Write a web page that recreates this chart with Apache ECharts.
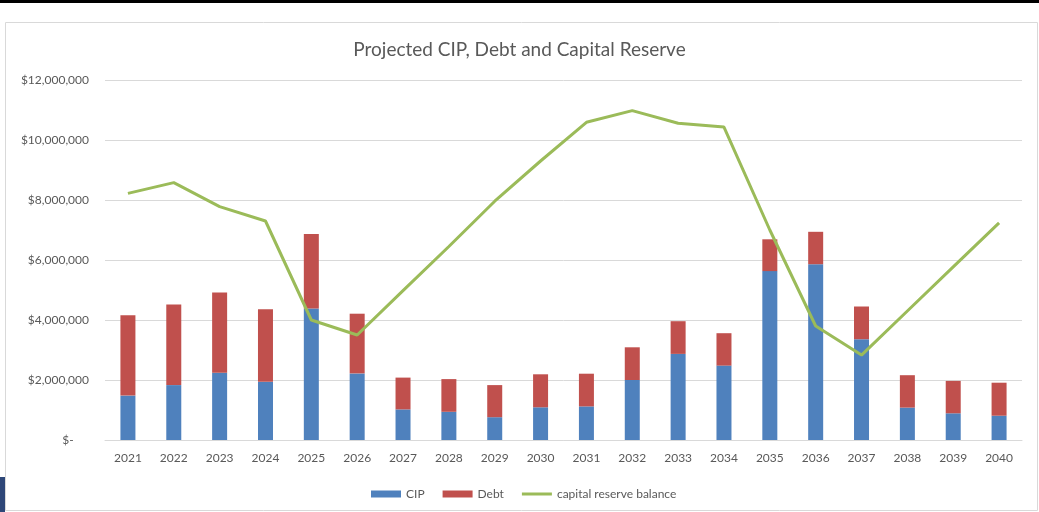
<!DOCTYPE html>
<html>
<head>
<meta charset="utf-8">
<script src="https://cdn.jsdelivr.net/npm/echarts@6/dist/echarts.min.js"></script>
<style>
html,body{margin:0;padding:0;background:#fff;}
#chart{width:1039px;height:512px;}
</style>
</head>
<body>
<div id="chart"></div>
<script>
const years = ['2021','2022','2023','2024','2025','2026','2027','2028','2029','2030','2031','2032','2033','2034','2035','2036','2037','2038','2039','2040'];
const cip = [1480000,1830000,2240000,1940000,4380000,2220000,1020000,940000,760000,1090000,1120000,2000000,2870000,2480000,5630000,5860000,3360000,1080000,890000,810000];
const debt = [2680000,2690000,2680000,2420000,2490000,1990000,1060000,1090000,1070000,1100000,1090000,1090000,1090000,1080000,1060000,1080000,1090000,1080000,1080000,1100000];
const reserve = [8220000,8580000,7780000,7300000,4000000,3500000,4980000,6450000,7960000,9300000,10590000,10980000,10560000,10430000,7000000,3800000,2830000,4300000,5770000,7240000];

const chart = echarts.init(document.getElementById('chart'));
const font = 'Lato, "Open Sans", sans-serif';
function fmt(v){
  if (v === 0) return '$-     ';
  return '$' + v.toLocaleString('en-US');
}
chart.setOption({
  animation:false,
  textStyle:{fontFamily:font},
  title:{
    text:'Projected CIP, Debt and Capital Reserve',
    left:'center', top:35,
    textStyle:{fontFamily:font,fontSize:19,fontWeight:'normal',color:'#595959'}
  },
  graphic:[
    {type:'rect',shape:{x:5.5,y:22.5,width:1032,height:488},style:{fill:'none',stroke:'#d9d9d9',lineWidth:1},silent:true,z:-1},
    {type:'rect',shape:{x:0,y:0,width:1039,height:3},style:{fill:'#000'},silent:true},
    {type:'rect',shape:{x:0,y:477,width:5,height:35},style:{fill:'#2e4778'},silent:true}
  ],
  grid:{left:105,right:17,top:80,bottom:72,containLabel:false},
  legend:{
    left:366, top:483,
    itemWidth:30, itemHeight:7, itemGap:18,
    textStyle:{fontFamily:font,fontSize:12,color:'#595959'},
    data:[
      {name:'CIP',icon:'rect'},
      {name:'Debt',icon:'rect'},
      {name:'capital reserve balance',icon:'path://M0,0 L0.01,0 L0.01,0.01 Z M0,2 L30,2 L30,5 L0,5 Z M29.99,7 L30,7 L30,6.99 Z'}
    ]
  },
  xAxis:{
    type:'category', data:years,
    axisLine:{lineStyle:{color:'#d9d9d9'}},
    axisTick:{show:false},
    axisLabel:{color:'#595959',fontSize:12,fontFamily:font,margin:12}
  },
  yAxis:{
    type:'value', min:0, max:12000000, interval:2000000,
    axisLine:{show:false}, axisTick:{show:false},
    splitLine:{lineStyle:{color:'#d9d9d9'}},
    axisLabel:{color:'#595959',fontSize:12,fontFamily:font,margin:16,formatter:fmt}
  },
  series:[
    {name:'CIP',type:'bar',stack:'a',data:cip,barWidth:15,itemStyle:{color:'#4f81bd'}},
    {name:'Debt',type:'bar',stack:'a',data:debt,barWidth:15,itemStyle:{color:'#c0504d'}},
    {name:'capital reserve balance',type:'line',data:reserve,symbol:'none',
     lineStyle:{color:'#9bbb59',width:3},itemStyle:{color:'#9bbb59'},z:5}
  ]
});
</script>
</body>
</html>
